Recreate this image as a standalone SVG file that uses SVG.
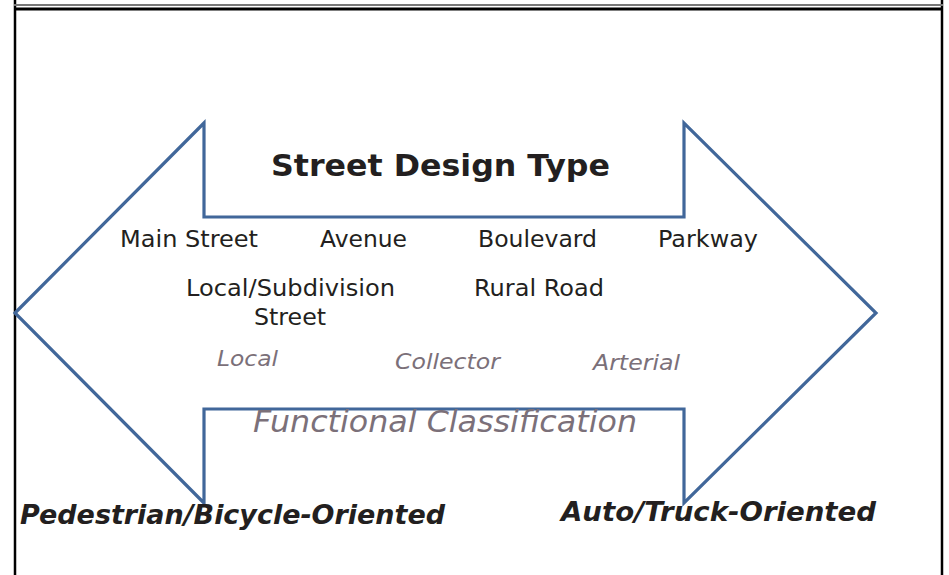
<svg xmlns="http://www.w3.org/2000/svg" width="949" height="575" viewBox="0 0 949 575">
<style>
.frame{fill:none;stroke:#000;}
.arrow{fill:none;stroke:#41679a;stroke-width:3.2;stroke-linejoin:miter;}
.t{font-family:"DejaVu Sans","Verdana",sans-serif;}
.title{font-size:31px;font-weight:bold;fill:#231f20;}
.type{font-size:23px;fill:#231f20;}
.fc{font-size:22px;font-style:italic;fill:#7b7079;}
.fcbig{font-size:31px;font-style:italic;fill:#7b7079;}
.orient{font-size:26px;font-style:italic;font-weight:bold;fill:#231f20;}
</style>
<rect x="0" y="0" width="949" height="575" fill="#fff"/>
<g id="frame">
<line class="frame" x1="15" y1="0" x2="15" y2="575" stroke-width="2.5"/>
<line class="frame" x1="942" y1="0" x2="942" y2="575" stroke-width="2.5"/>
<line x1="14" y1="5" x2="943" y2="5" stroke="#777" stroke-width="2"/>
<line class="frame" x1="14" y1="9" x2="943" y2="9" stroke-width="3"/>
</g>
<g id="connectors">
<polygon id="double-arrow" class="arrow" points="15,313 204,123 204,217 684,217 684,123 876,313 684,503 684,409 204,409 204,503"/>
</g>
<g id="street-design-type">
<text class="t title" x="271" y="176" textLength="339" lengthAdjust="spacingAndGlyphs">Street Design Type</text>
</g>
<g id="main-street"><text class="t type" x="120" y="247" textLength="138" lengthAdjust="spacingAndGlyphs">Main Street</text></g>
<g id="avenue"><text class="t type" x="320" y="247" textLength="87" lengthAdjust="spacingAndGlyphs">Avenue</text></g>
<g id="boulevard"><text class="t type" x="478" y="247" textLength="119" lengthAdjust="spacingAndGlyphs">Boulevard</text></g>
<g id="parkway"><text class="t type" x="658" y="247" textLength="100" lengthAdjust="spacingAndGlyphs">Parkway</text></g>
<g id="local-subdivision"><text class="t type" x="186" y="296" textLength="209" lengthAdjust="spacingAndGlyphs">Local/Subdivision</text><text class="t type" x="254" y="325" textLength="72" lengthAdjust="spacingAndGlyphs">Street</text></g>
<g id="rural-road"><text class="t type" x="474" y="296" textLength="130" lengthAdjust="spacingAndGlyphs">Rural Road</text></g>
<g id="local"><text class="t fc" x="217" y="366" textLength="61" lengthAdjust="spacingAndGlyphs">Local</text></g>
<g id="collector"><text class="t fc" x="395" y="369" textLength="105" lengthAdjust="spacingAndGlyphs">Collector</text></g>
<g id="arterial"><text class="t fc" x="593" y="370" textLength="87" lengthAdjust="spacingAndGlyphs">Arterial</text></g>
<g id="functional-classification"><text class="t fcbig" x="253" y="432" textLength="384" lengthAdjust="spacingAndGlyphs">Functional Classification</text></g>
<g id="ped-bike"><text class="t orient" x="20" y="524" textLength="425" lengthAdjust="spacingAndGlyphs">Pedestrian/Bicycle-Oriented</text></g>
<g id="auto-truck"><text class="t orient" x="561" y="521" textLength="315" lengthAdjust="spacingAndGlyphs">Auto/Truck-Oriented</text></g>
</svg>
